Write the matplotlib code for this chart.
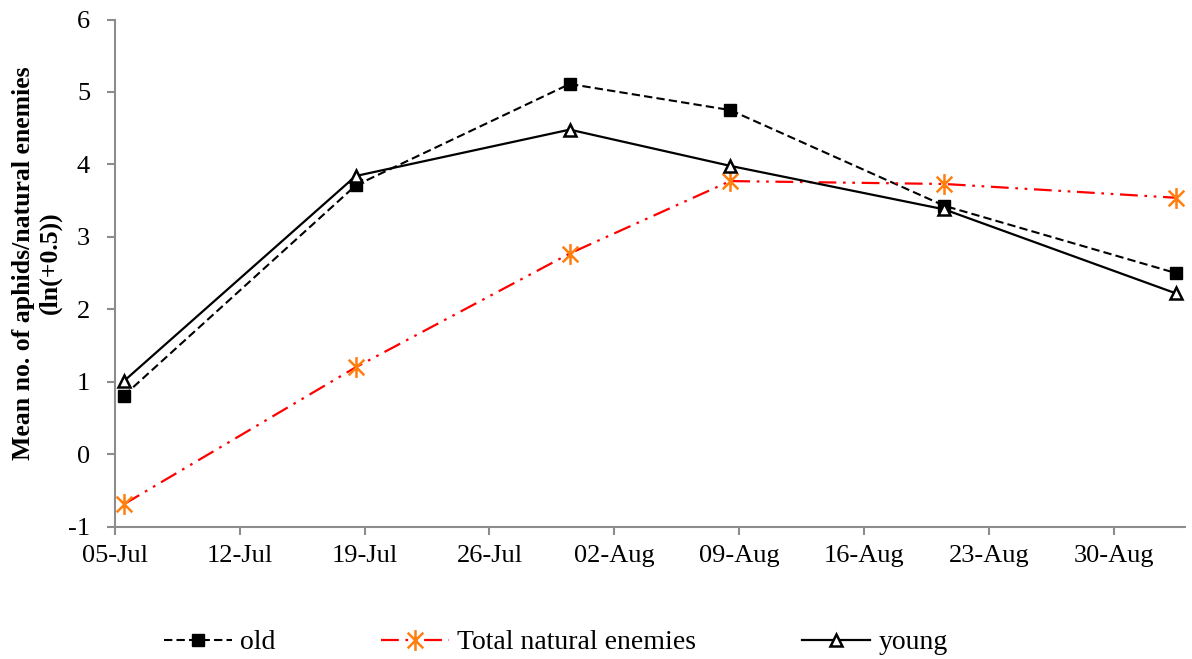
import matplotlib
matplotlib.use("Agg")
import matplotlib.pyplot as plt
import matplotlib.dates as mdates
from matplotlib.path import Path
import pandas as pd

# sampling dates and ln(x+0.5) means
dates = ["2013-07-05", "2013-07-18", "2013-07-30", "2013-08-08", "2013-08-20", "2013-09-02"]
old = [0.81, 3.71, 5.11, 4.75, 3.43, 2.50]
enemies = [-0.69, 1.20, 2.77, 3.77, 3.73, 3.54]
young = [1.01, 3.84, 4.48, 3.98, 3.38, 2.22]
tick_dates = pd.date_range("2013-07-05", "2013-08-30", freq="7D")

plt.rcParams['font.family'] = ['Liberation Serif', 'DejaVu Serif']
plt.rcParams['axes.unicode_minus'] = False

# points sit in the middle of their day slot (Excel date axis)
x = pd.to_datetime(dates) + pd.Timedelta(hours=12)

# asterisk marker: X plus a vertical bar
star = Path([(0, -1), (0, 1), (-0.75, -0.75), (0.75, 0.75), (-0.75, 0.75), (0.75, -0.75)],
            [Path.MOVETO, Path.LINETO, Path.MOVETO, Path.LINETO, Path.MOVETO, Path.LINETO])

fig = plt.figure(figsize=(11.92, 6.59), dpi=100)
ax = fig.add_axes([0.0965, 0.2008, 0.8975, 0.7696])

ax.plot(x, old, color='black', lw=1.5, linestyle=(0, (4, 2)), marker='s', markersize=8,
        markerfacecolor='black', markeredgecolor='black', label='old')
ax.plot(x, enemies, color='red', lw=1.6, linestyle=(0, (8, 3, 1.2, 3, 1.2, 3)), marker=star,
        markersize=15, markeredgewidth=1.8, markeredgecolor='#ff7f0e', markerfacecolor='#ff7f0e',
        label='Total natural enemies')
ax.plot(x, young, color='black', lw=1.6, marker='^', markersize=9, markerfacecolor='white',
        markeredgecolor='black', markeredgewidth=1.8, label='young')

ax.set_xlim(pd.Timestamp("2013-07-05"), pd.Timestamp("2013-09-03"))
ax.set_ylim(-1, 6)
ax.set_xticks(tick_dates)
ax.xaxis.set_major_formatter(mdates.DateFormatter('%d-%b'))
ax.set_yticks(range(-1, 7))

for s in ['top', 'right']:
    ax.spines[s].set_visible(False)
for s in ['left', 'bottom']:
    ax.spines[s].set_color('#8c8c8c')
    ax.spines[s].set_linewidth(1.5)
ax.tick_params(colors='#8c8c8c', width=1.5, length=6, labelcolor='black', labelsize=19)
ax.tick_params(axis='x', pad=7)
ax.tick_params(axis='y', pad=12)

ax.set_ylabel('Mean no. of aphids/natural enemies\n(ln(+0.5))', fontsize=18.5,
              fontweight='bold', linespacing=1.15)
ax.yaxis.set_label_coords(-0.05, 0.52)

fig.legend(loc='center', bbox_to_anchor=(0.466, 0.025), ncol=3, frameon=False, fontsize=20,
           handlelength=2.45, handletextpad=0.3, columnspacing=3.8)

fig.savefig('out.png', dpi=100)
